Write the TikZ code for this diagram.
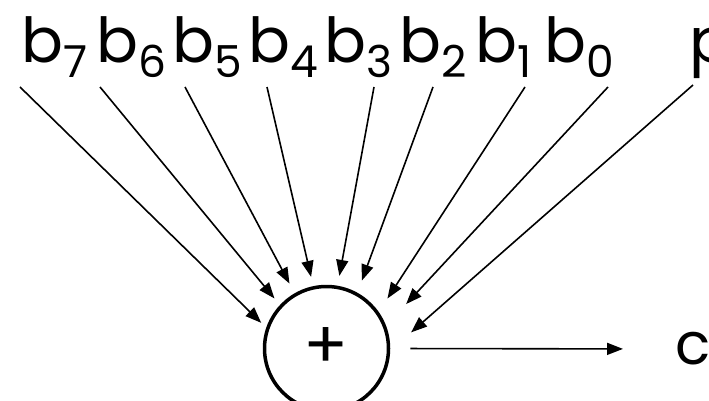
\documentclass[tikz,border=0pt]{standalone}
\usepackage{fontspec}
\setmainfont{Poppins}
\usetikzlibrary{arrows.meta,positioning,calc}

\newcommand{\bitname}[1]{b\raisebox{-15pt}{\fontsize{44}{44}\selectfont #1}}

\begin{document}
\begin{tikzpicture}[x=1pt, y=-1pt, font=\fontsize{62}{70}\selectfont,
        feed/.style={-{Triangle[length=16pt,width=12pt]}, line width=1.6pt}]
        \useasboundingbox (0,0) rectangle (709,401);
        % the adder
        \node (sum) at (326.5,348.5) [circle, draw, line width=3.5pt, minimum size=124pt, inner sep=0pt,
            font=\fontsize{66}{66}\selectfont] {+};
        % data bits and parity bit
        \foreach \i/\x in {7/21, 6/96, 5/172, 4/248, 3/324, 2/399, 1/475, 0/544}
            \node (b\i) at (\x,63) [anchor=base west, inner sep=0pt] {\bitname{\i}};
        \node (p) at (689,63) [anchor=base west, inner sep=0pt] {p};
        % inputs into the adder
        \foreach \n/\x/\a/\g in {1/20/161/7, 2/100/137.7/8.5, 3/185/120.8/11, 4/267/102.5/9.5,
                                 5/374/80/10, 6/433/61.8/13, 7/525/35.7/16, 8/608/21.4/29.5}
        {
            \coordinate (in\n) at (\x,87);
            \draw[feed, shorten >=\g pt] (in\n) -- (sum.\a);
        }
        \coordinate (in9) at (693,85);
        \draw[feed, shorten >=27.8pt] (in9) -- (sum.-2.9);
        % output
        \node (c) at (675,349) [anchor=west, inner sep=0pt, font=\fontsize{58}{60}\selectfont] {c};
        \draw[feed, shorten <=20pt, shorten >=52pt] (sum.east) -- (c.west);
    \end{tikzpicture}
\end{document}
